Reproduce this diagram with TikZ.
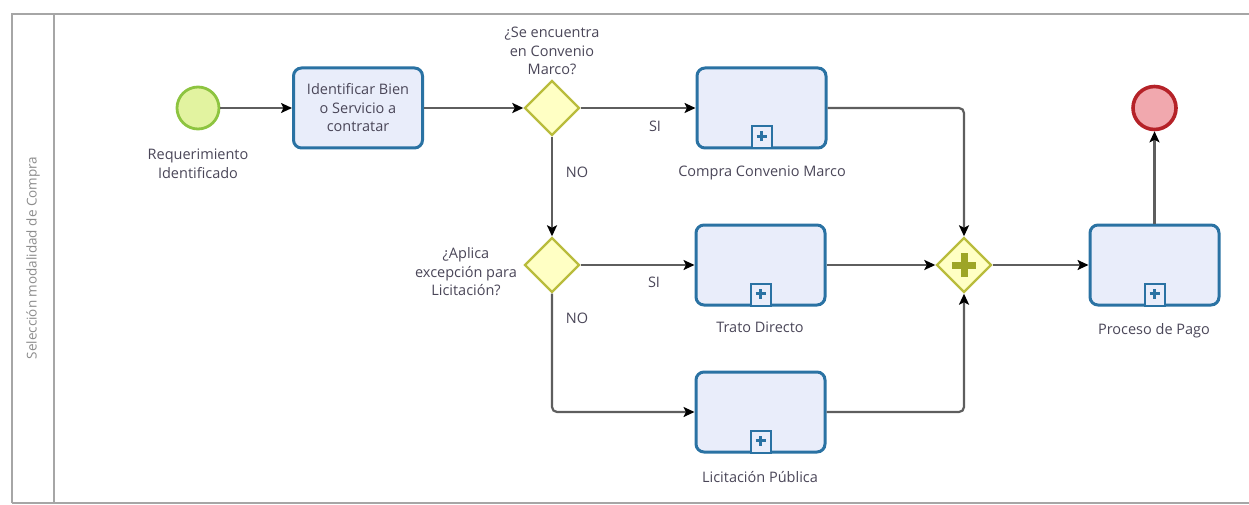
\documentclass[tikz,border=0pt]{standalone}
\usepackage{fontspec}
\setmainfont{Open Sans}
\usetikzlibrary{shapes.geometric,arrows.meta}
\definecolor{txt}{HTML}{4A4658}
\definecolor{lanec}{HTML}{A6A6A6}
\definecolor{lanetxt}{HTML}{8C8C8C}
\definecolor{flowc}{HTML}{5E5E5E}
\definecolor{taskfill}{HTML}{E9EDFA}
\definecolor{taskdraw}{HTML}{2A72A3}
\definecolor{gwfill}{HTML}{FFFFC4}
\definecolor{gwdraw}{HTML}{B9BC3C}
\definecolor{plusc}{HTML}{9DA526}
\definecolor{stfill}{HTML}{E2F3A0}
\definecolor{stdraw}{HTML}{8DC440}
\definecolor{enfill}{HTML}{F1A8AE}
\definecolor{endraw}{HTML}{B52228}
\tikzset{
  lane/.style={draw=lanec, line width=2.6pt},
  flow/.style={draw=flowc, line width=2.2pt, rounded corners=5pt, -{Stealth[length=11pt,width=10pt,inset=2.5pt,fill=black,color=black]}},
  taskbox/.style={draw=taskdraw, fill=taskfill, line width=3pt, rounded corners=8pt, minimum width=129pt, minimum height=80pt, inner sep=0pt},
  gw/.style={diamond, draw=gwdraw, fill=gwfill, line width=2.4pt, minimum width=55pt, minimum height=55pt, inner sep=0pt},
  startev/.style={circle, draw=stdraw, fill=stfill, line width=2.8pt, minimum size=42pt, inner sep=0pt},
  endev/.style={circle, draw=endraw, fill=enfill, line width=3.6pt, minimum size=43pt, inner sep=0pt},
  lbl/.style={text=txt, font=\fontsize{14.5}{18.5}\selectfont, align=center, inner sep=0pt},
  small/.style={text=txt, font=\fontsize{14.5}{18.5}\selectfont, inner sep=0pt},
  subm/.style={draw=taskdraw, fill=taskfill, line width=2pt, minimum width=20pt, minimum height=22pt, inner sep=0pt, anchor=south},
}
\newcommand{\submark}[2]{%
  \node[subm] (#2) at (#1.south) {};
  \draw[taskdraw, line width=3.6pt] ([yshift=-4pt]#2.center) -- ([yshift=6pt]#2.center);
  \draw[taskdraw, line width=3.6pt] ([xshift=-5pt,yshift=1pt]#2.center) -- ([xshift=5pt,yshift=1pt]#2.center);
}
\begin{document}
\begin{tikzpicture}[x=1pt,y=-1pt]
\useasboundingbox (0,0) rectangle (1249,505);
% lane
\draw[lane] (12,503) -- (12,14) -- (1249,14);
\draw[lane] (54,14) -- (54,503);
\draw[lane] (12,503) -- (1249,503);
\node[text=lanetxt, font=\fontsize{13.5}{15}\selectfont, rotate=90, inner sep=0pt] (lanelbl) at (33,258) {Selección modalidad de Compra};
% nodes
\node[startev] (start) at (198,108) {};
\node[lbl] (startlbl) at (198,164) {Requerimiento\\Identificado};
\node[taskbox, lbl, draw=taskdraw] (t1) at (358,108) {Identificar Bien\\o Servicio a\\contratar};
\node[gw] (g1) at (552,108) {};
\node[lbl] (g1lbl) at (552,51) {¿Se encuentra\\en Convenio\\Marco?};
\node[taskbox] (ccm) at (761.5,108) {};
\submark{ccm}{m1}
\node[lbl] (ccmlbl) at (762,173) {Compra Convenio Marco};
\node[gw] (g2) at (552,265) {};
\node[lbl] (g2lbl) at (466,272) {¿Aplica\\excepción para\\Licitación?};
\node[taskbox] (td) at (760.5,265) {};
\submark{td}{m2}
\node[lbl] (tdlbl) at (760,327) {Trato Directo};
\node[taskbox] (lp) at (760.5,412) {};
\submark{lp}{m3}
\node[lbl] (lplbl) at (760,477) {Licitación Pública};
\node[gw] (pg) at (964,265) {};
\draw[plusc, line width=7pt] ([yshift=-12pt]pg.center) -- ([yshift=12pt]pg.center);
\draw[plusc, line width=7pt] ([xshift=-12pt]pg.center) -- ([xshift=12pt]pg.center);
\node[taskbox] (pp) at (1154.5,265) {};
\submark{pp}{m4}
\node[lbl] (pplbl) at (1154,331) {Proceso de Pago};
\node[endev] (end) at (1154.5,108) {};
% branch labels
\node[small] (si1) at (655,126) {SI};
\node[small] (no1) at (577,172) {NO};
\node[small] (si2) at (654,282) {SI};
\node[small] (no2) at (577,318) {NO};
% connectors
\coordinate (c1) at (552,412);
\coordinate (c2) at (964,108);
\coordinate (c3) at (964,412);
\draw[flow] (start) -- (t1);
\draw[flow] (t1) -- (g1);
\draw[flow] (g1.east) -- (ccm.west);
\draw[flow] (g1.south) -- (g2.north);
\draw[flow] (g2.east) -- (td.west);
\draw[flow] (g2.south) -- (c1) -- (lp.west);
\draw[flow] (ccm.east) -- (c2) -- (pg.north);
\draw[flow] (td.east) -- (pg.west);
\draw[flow] (lp.east) -- (c3) -- (pg.south);
\draw[flow] (pg.east) -- (pp.west);
\draw[flow] (pp.north) -- (end.south);
\end{tikzpicture}
\end{document}
